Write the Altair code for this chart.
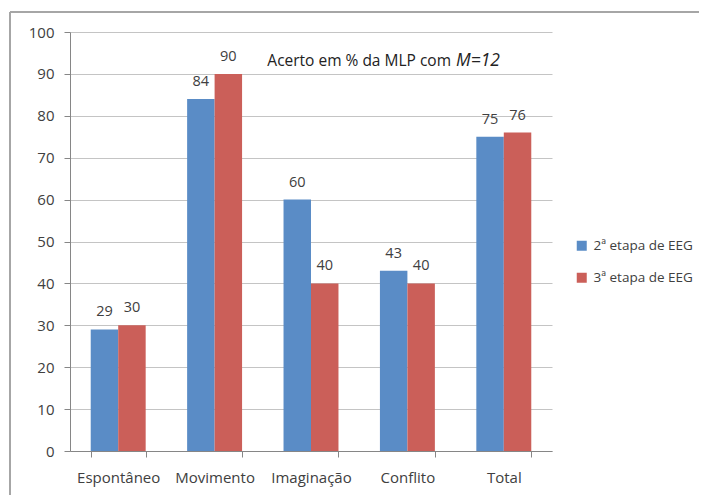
import altair as alt
import pandas as pd

categories = ["Espontâneo", "Movimento", "Imaginação", "Conflito", "Total"]
series_names = ["2ª etapa de EEG", "3ª etapa de EEG"]
etapa2 = [29, 84, 60, 43, 75]
etapa3 = [30, 90, 40, 40, 76]
colors = ["#5A8CC6", "#CB5F59"]
y_ticks = list(range(0, 101, 10))
title_main = "Acerto em % da MLP com"
title_italic = "M=12"

rows = []
for c, a, b in zip(categories, etapa2, etapa3):
    rows.append({"cat": c, "serie": series_names[0], "valor": a})
    rows.append({"cat": c, "serie": series_names[1], "valor": b})
df = pd.DataFrame(rows)

FONT = "Open Sans"
TXT = "#404040"
AXC = "#868686"

x_enc = alt.X(
    "cat:N", sort=categories,
    scale=alt.Scale(paddingInner=0.43, paddingOuter=0.215),
    axis=alt.Axis(title=None, labelAngle=0, tickBand="extent", tickSize=6,
                  labelPadding=13, domainColor=AXC, tickColor=AXC, grid=False),
)
y_enc = alt.Y(
    "valor:Q",
    scale=alt.Scale(domain=[0, 100], nice=False),
    axis=alt.Axis(title=None, values=y_ticks, tickSize=6, labelPadding=10,
                  grid=True, gridColor="#c4c4c4", domainColor=AXC, tickColor=AXC),
)
xoff = alt.XOffset("serie:N", sort=series_names,
                   scale=alt.Scale(paddingInner=0, paddingOuter=0))

one = pd.DataFrame({"a": [0]})
border_left = alt.Chart(one).mark_rule(color="#a6a6a6", strokeWidth=2).encode(
    x=alt.value(-60), y=alt.value(-20), y2=alt.value(470))
border_top = alt.Chart(one).mark_rule(color="#a6a6a6", strokeWidth=2).encode(
    x=alt.value(-60), x2=alt.value(629), y=alt.value(-20))

bars = alt.Chart(df).mark_bar().encode(
    x=x_enc, xOffset=xoff, y=y_enc,
    color=alt.Color(
        "serie:N", sort=series_names,
        scale=alt.Scale(domain=series_names, range=colors),
        legend=alt.Legend(title=None, orient="none", legendX=505, legendY=207,
                          symbolType="square", symbolSize=100, symbolStrokeWidth=0,
                          labelFontSize=13.5, rowPadding=17, labelOffset=5),
    ),
)

labels = alt.Chart(df).mark_text(
    baseline="alphabetic", dy=-13, fontSize=14.5, color=TXT, font=FONT
).encode(x=x_enc, xOffset=xoff, y=y_enc, text="valor:Q")

t1 = alt.Chart(pd.DataFrame({"t": [title_main]})).mark_text(
    align="right", baseline="alphabetic", fontSize=15.5, color="#222222", font=FONT
).encode(x=alt.value(381), y=alt.value(34), text="t:N")

t2 = alt.Chart(pd.DataFrame({"t": [title_italic]})).mark_text(
    align="left", baseline="alphabetic", fontSize=17.5, fontStyle="italic",
    color="#222222", font=FONT
).encode(x=alt.value(386), y=alt.value(34), text="t:N")

chart = alt.layer(border_left, border_top, bars, labels, t1, t2).properties(
    width=482, height=419,
    autosize=alt.AutoSizeParams(type="none"),
    padding={"left": 62, "top": 24, "right": 147, "bottom": 44},
).configure_view(strokeWidth=0).configure_axis(
    labelFont=FONT, labelColor=TXT, labelFontSize=15
).configure_legend(labelFont=FONT, labelColor=TXT)

chart.save("out.html", embed_options={"renderer": "svg", "actions": False})
